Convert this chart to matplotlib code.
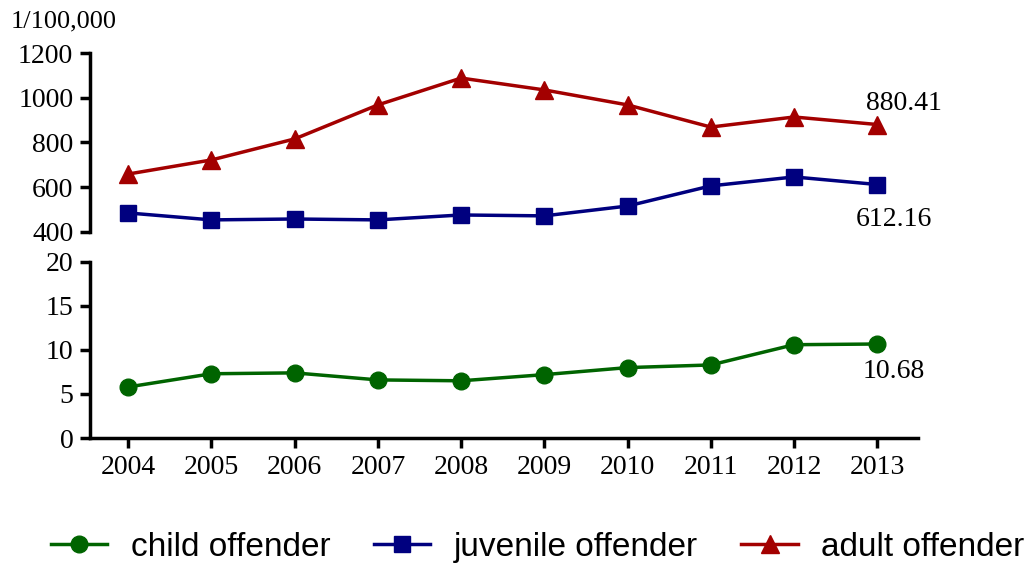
import numpy as np
import matplotlib
matplotlib.use("Agg")
import matplotlib.pyplot as plt
from matplotlib.lines import Line2D

# Data (rates per 100,000)
years = [2004, 2005, 2006, 2007, 2008, 2009, 2010, 2011, 2012, 2013]
child = [5.8, 7.3, 7.4, 6.6, 6.5, 7.2, 8.0, 8.3, 10.6, 10.68]
juvenile = [485, 454, 458, 454, 476, 472, 516, 606, 646, 612.16]
adult = [659, 722, 816, 968, 1088, 1035, 968, 869, 914, 880.41]

red = "#A30000"
blue = "#00007F"
green = "#006400"

serif = "Liberation Serif"
fs = 20

fig = plt.figure(figsize=(10.28, 5.64), dpi=100)
ax_top = fig.add_axes([0.0875, 0.5887, 0.8055, 0.3173])
ax_bot = fig.add_axes([0.0875, 0.2234, 0.8055, 0.3121])

# Top panel: adult + juvenile
ax_top.plot(years, adult, color=red, lw=2.5, marker="^", ms=12.5, clip_on=False)
ax_top.plot(years, juvenile, color=blue, lw=2.5, marker="s", ms=12, clip_on=False)
ax_top.set_ylim(400, 1200)
ax_top.set_yticks([400, 600, 800, 1000, 1200])
ax_top.set_xlim(2003.54, 2013.49)
ax_top.set_xticks([])
for s in ["top", "right", "bottom"]:
    ax_top.spines[s].set_visible(False)
ax_top.spines["left"].set_linewidth(2.5)

# Bottom panel: child
ax_bot.plot(years, child, color=green, lw=2.5, marker="o", ms=12, clip_on=False)
ax_bot.set_ylim(0, 20)
ax_bot.set_yticks([0, 5, 10, 15, 20])
ax_bot.set_xlim(2003.54, 2013.49)
ax_bot.set_xticks(years)
for s in ["top", "right"]:
    ax_bot.spines[s].set_visible(False)
ax_bot.spines["left"].set_linewidth(2.5)
ax_bot.spines["bottom"].set_linewidth(2.5)

for ax in (ax_top, ax_bot):
    ax.tick_params(width=2.5, length=7, labelsize=fs, pad=5)
    for lab in ax.get_xticklabels() + ax.get_yticklabels():
        lab.set_fontfamily(serif)
ax_bot.tick_params(axis="x", pad=5)

# end labels
ax_top.annotate("880.41", (years[-1], adult[-1]), xytext=(19, 15),
                textcoords="offset points", ha="center", va="center",
                fontsize=fs, family=serif)
ax_top.annotate("612.16", (years[-1], juvenile[-1]), xytext=(12, -25),
                textcoords="offset points", ha="center", va="center",
                fontsize=fs, family=serif)
ax_bot.annotate("10.68", (years[-1], child[-1]), xytext=(12, -20),
                textcoords="offset points", ha="center", va="center",
                fontsize=fs, family=serif)

fig.text(0.01, 0.962, "1/100,000", fontsize=fs - 1, family=serif, va="center")

handles = [
    Line2D([], [], color=green, lw=2.5, marker="o", ms=12),
    Line2D([], [], color=blue, lw=2.5, marker="s", ms=12),
    Line2D([], [], color=red, lw=2.5, marker="^", ms=12.5),
]
labels = ["child offender", "juvenile offender", "adult offender"]
fig.legend(handles, labels, loc="center", bbox_to_anchor=(0.523, 0.03),
           ncol=3, frameon=False, prop={"family": "Liberation Sans", "size": 24},
           handlelength=1.7, columnspacing=1.3, handletextpad=0.7)

fig.savefig("out.png", dpi=100)
